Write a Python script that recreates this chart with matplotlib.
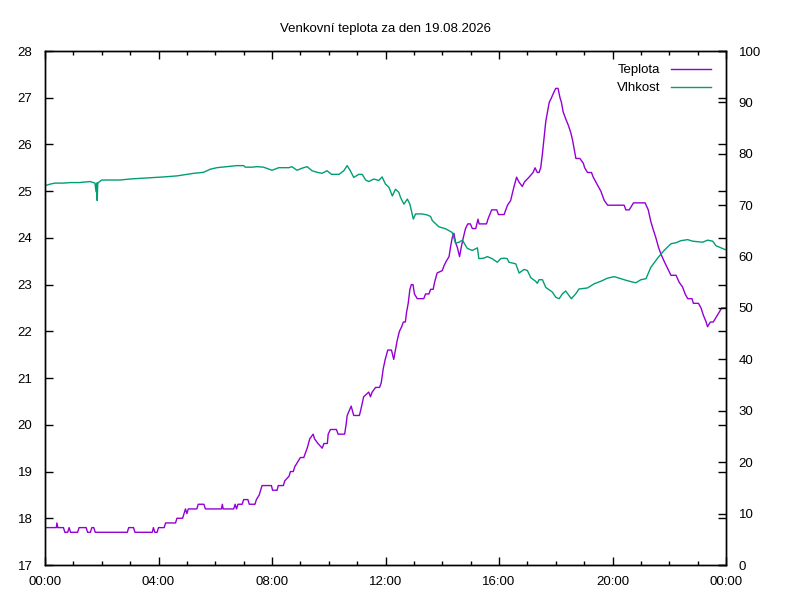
import numpy as np
import matplotlib
matplotlib.use("Agg")
import matplotlib.pyplot as plt

plt.rcParams['font.family'] = ['Liberation Sans', 'DejaVu Sans']

# teplota: (hodina, °C)
t_hours = [0.0, 0.4, 0.42, 0.45, 0.65, 0.7, 0.8, 0.85, 0.9, 1.15, 1.2, 1.45, 1.5, 1.6, 1.65, 1.72, 1.77,
           2.9, 2.95, 3.12, 3.17, 3.78, 3.82, 3.87, 3.95, 4.0, 4.2, 4.25, 4.6, 4.65, 4.85, 4.9, 4.95, 5.0,
           5.05, 5.35, 5.4, 5.6, 5.65, 6.22, 6.25, 6.28, 6.65, 6.7, 6.75, 6.8, 6.95, 7.0, 7.15, 7.2, 7.4,
           7.45, 7.55, 7.65, 7.98, 8.02, 8.18, 8.22, 8.4, 8.45, 8.6, 8.65, 8.75, 8.8, 8.9, 9.0, 9.12, 9.24,
           9.33, 9.45, 9.5, 9.62, 9.77, 9.83, 9.95, 9.98, 10.06, 10.27, 10.33, 10.56, 10.61, 10.65, 10.79,
           10.88, 11.08, 11.14, 11.23, 11.41, 11.47, 11.53, 11.65, 11.79, 11.85, 11.92, 11.99, 12.08, 12.21,
           12.29, 12.35, 12.41, 12.49, 12.57, 12.63, 12.7, 12.74, 12.8, 12.86, 12.91, 12.97, 13.02, 13.12,
           13.35, 13.41, 13.53, 13.59, 13.68, 13.73, 13.82, 14.0, 14.06, 14.14, 14.24, 14.29, 14.35, 14.41,
           14.47, 14.53, 14.61, 14.67, 14.74, 14.82, 14.9, 14.99, 15.06, 15.18, 15.26, 15.3, 15.56, 15.61,
           15.74, 15.92, 15.98, 16.18, 16.3, 16.41, 16.53, 16.62, 16.7, 16.82, 16.9, 17.06, 17.2, 17.27,
           17.35, 17.41, 17.47, 17.53, 17.59, 17.65, 17.71, 17.77, 17.85, 17.92, 18.0, 18.08, 18.15, 18.2,
           18.26, 18.35, 18.45, 18.53, 18.59, 18.65, 18.71, 18.85, 18.97, 19.02, 19.12, 19.26, 19.32, 19.41,
           19.5, 19.59, 19.71, 19.83, 20.41, 20.47, 20.59, 20.74, 21.15, 21.26, 21.35, 21.45, 21.53, 21.62,
           21.71, 21.82, 21.94, 22.06, 22.24, 22.35, 22.47, 22.56, 22.65, 22.8, 22.85, 23.03, 23.12, 23.2,
           23.3, 23.35, 23.45, 23.55, 23.65, 23.75, 23.85, 24.0]
teplota = [17.8, 17.8, 17.9, 17.8, 17.8, 17.7, 17.7, 17.8, 17.7, 17.7, 17.8, 17.8, 17.7, 17.7, 17.8, 17.8, 17.7,
           17.7, 17.8, 17.8, 17.7, 17.7, 17.8, 17.7, 17.7, 17.8, 17.8, 17.9, 17.9, 18.0, 18.0, 18.1, 18.2, 18.1,
           18.2, 18.2, 18.3, 18.3, 18.2, 18.2, 18.3, 18.2, 18.2, 18.3, 18.2, 18.3, 18.3, 18.4, 18.4, 18.3, 18.3,
           18.4, 18.5, 18.7, 18.7, 18.6, 18.6, 18.7, 18.7, 18.8, 18.9, 19.0, 19.0, 19.1, 19.2, 19.3, 19.3, 19.5,
           19.7, 19.8, 19.7, 19.6, 19.5, 19.6, 19.6, 19.8, 19.9, 19.9, 19.8, 19.8, 20.0, 20.2, 20.4,
           20.2, 20.2, 20.35, 20.6, 20.7, 20.6, 20.7, 20.8, 20.8, 20.9, 21.2, 21.4, 21.6, 21.6,
           21.4, 21.6, 21.8, 22.0, 22.1, 22.2, 22.2, 22.4, 22.6, 22.9, 23.0, 23.0, 22.8, 22.7,
           22.7, 22.8, 22.8, 22.9, 22.9, 23.05, 23.25, 23.3, 23.4, 23.5, 23.6, 23.8, 24.0, 24.1,
           23.9, 23.8, 23.6, 23.8, 24.0, 24.2, 24.3, 24.3, 24.2, 24.2, 24.4, 24.3, 24.3, 24.4,
           24.6, 24.6, 24.5, 24.5, 24.7, 24.8, 25.1, 25.3, 25.2, 25.1, 25.2, 25.3, 25.4, 25.5,
           25.4, 25.4, 25.5, 25.8, 26.15, 26.5, 26.7, 26.9, 27.0, 27.1, 27.2, 27.2, 27.0, 26.9,
           26.7, 26.55, 26.4, 26.25, 26.1, 25.9, 25.7, 25.7, 25.6, 25.5, 25.4, 25.4, 25.3, 25.2,
           25.1, 25.0, 24.8, 24.7, 24.7, 24.6, 24.6, 24.75, 24.75, 24.6, 24.35, 24.15, 24.0, 23.8,
           23.65, 23.5, 23.35, 23.2, 23.2, 23.05, 22.95, 22.8, 22.7, 22.7, 22.6, 22.6, 22.5, 22.35,
           22.2, 22.1, 22.2, 22.2, 22.3, 22.4, 22.5, 22.5]

# vlhkost: (hodina, %)
h_hours = [0.0, 0.18, 0.35, 0.65, 0.9, 1.2, 1.59, 1.76, 1.8, 1.82, 1.84, 1.86, 1.88, 2.0, 2.65, 3.0, 3.59,
           4.18, 4.65, 5.24, 5.59, 5.82, 6.06, 6.41, 6.76, 7.0, 7.06, 7.3, 7.47, 7.7, 8.0, 8.24, 8.6, 8.7,
           8.88, 9.06, 9.24, 9.41, 9.59, 9.76, 9.94, 10.1, 10.36, 10.53, 10.65, 10.76, 10.88, 11.06, 11.18,
           11.3, 11.41, 11.59, 11.76, 11.88, 12.0, 12.12, 12.24, 12.35, 12.47, 12.53, 12.65, 12.77, 12.86,
           12.98, 13.06, 13.29, 13.47, 13.59, 13.65, 13.88, 14.12, 14.35, 14.47, 14.59, 14.71, 14.88, 15.06,
           15.24, 15.29, 15.47, 15.59, 15.76, 15.94, 16.06, 16.18, 16.29, 16.35, 16.59, 16.71, 16.88, 17.0,
           17.12, 17.29, 17.35, 17.41, 17.53, 17.65, 17.88, 18.0, 18.12, 18.24, 18.35, 18.47, 18.55, 18.71,
           18.82, 19.12, 19.35, 19.59, 19.82, 20.06, 20.29, 20.53, 20.82, 21.0, 21.18, 21.35, 21.59, 21.82,
           22.06, 22.24, 22.41, 22.65, 22.82, 23.18, 23.35, 23.53, 23.65, 24.0]
vlhkost = [73.8, 74.1, 74.3, 74.3, 74.4, 74.4, 74.6, 74.3, 72.6, 74.3, 70.9, 74.4, 74.4, 74.9, 74.9, 75.1, 75.3,
           75.5, 75.7, 76.2, 76.4, 77.0, 77.3, 77.5, 77.7, 77.7, 77.4, 77.4, 77.5, 77.4, 76.8, 77.3, 77.3, 77.5,
           76.8, 77.2, 77.5, 76.7, 76.4, 76.2, 76.7, 76.0, 76.0, 76.7, 77.7, 76.7, 75.4, 76.0, 76.0,
           74.9, 74.6, 75.1, 74.8, 75.5, 74.1, 73.5, 71.8, 73.1, 72.5, 71.5, 70.2, 71.2, 70.2,
           67.3, 68.3, 68.3, 68.1, 67.8, 67.0, 65.8, 65.4, 64.7, 62.6, 62.8, 63.2, 61.6, 61.2,
           61.7, 59.6, 59.7, 60.0, 59.6, 58.9, 59.6, 59.7, 59.6, 58.9, 58.6, 56.8, 57.5, 57.3,
           55.9, 55.2, 54.8, 55.5, 55.5, 54.0, 53.1, 52.1, 51.8, 52.8, 53.3, 52.4, 51.8, 52.8,
           53.7, 53.9, 54.7, 55.2, 55.8, 56.1, 55.7, 55.3, 54.9, 55.5, 55.7, 57.9, 59.7, 61.2,
           62.5, 62.7, 63.1, 63.3, 63.0, 62.8, 63.2, 63.0, 62.1, 61.3]

x_ticks = [0, 4, 8, 12, 16, 20, 24]
x_labels = ['00:00', '04:00', '08:00', '12:00', '16:00', '20:00', '00:00']

fig = plt.figure(figsize=(8, 6), dpi=100)
ax = fig.add_axes([45 / 800, 35 / 600, 681 / 800, 514 / 600])
ax2 = ax.twinx()

l1, = ax.plot(t_hours, teplota, color='#9400D3', lw=1, label='Teplota')
l2, = ax2.plot(h_hours, vlhkost, color='#009E73', lw=1, label='Vlhkost')

ax.set_xlim(0, 24)
ax.set_ylim(17, 28)
ax2.set_ylim(0, 100)
ax.set_xticks(x_ticks)
ax.set_xticklabels(x_labels)
ax.set_xticks(np.arange(0, 25, 1), minor=True)
ax.set_yticks(np.arange(17, 29, 1))
ax2.set_yticks(np.arange(0, 101, 10))

ax.tick_params(axis='x', which='major', direction='in', length=6, width=1, top=True,
               labelsize=9.5, pad=8)
ax.tick_params(axis='x', which='minor', direction='in', length=3, width=1, top=True)
ax.tick_params(axis='y', direction='in', length=6, width=1, right=True, labelsize=9.5, pad=9)
ax2.tick_params(axis='y', direction='in', length=6, width=1, labelsize=9.5, pad=9)
for a in (ax, ax2):
    for s in a.spines.values():
        s.set_linewidth(1)

ax.set_title('Venkovní teplota za den 19.08.2026', fontsize=9.5, pad=14)

ax2.legend([l1, l2], ['Teplota', 'Vlhkost'], loc='upper right', frameon=False, markerfirst=False,
           fontsize=9.5, handlelength=3.0, handletextpad=0.8, labelspacing=0.45,
           bbox_to_anchor=(0.985, 0.985), borderaxespad=0)

fig.savefig('out.png', dpi=100)
